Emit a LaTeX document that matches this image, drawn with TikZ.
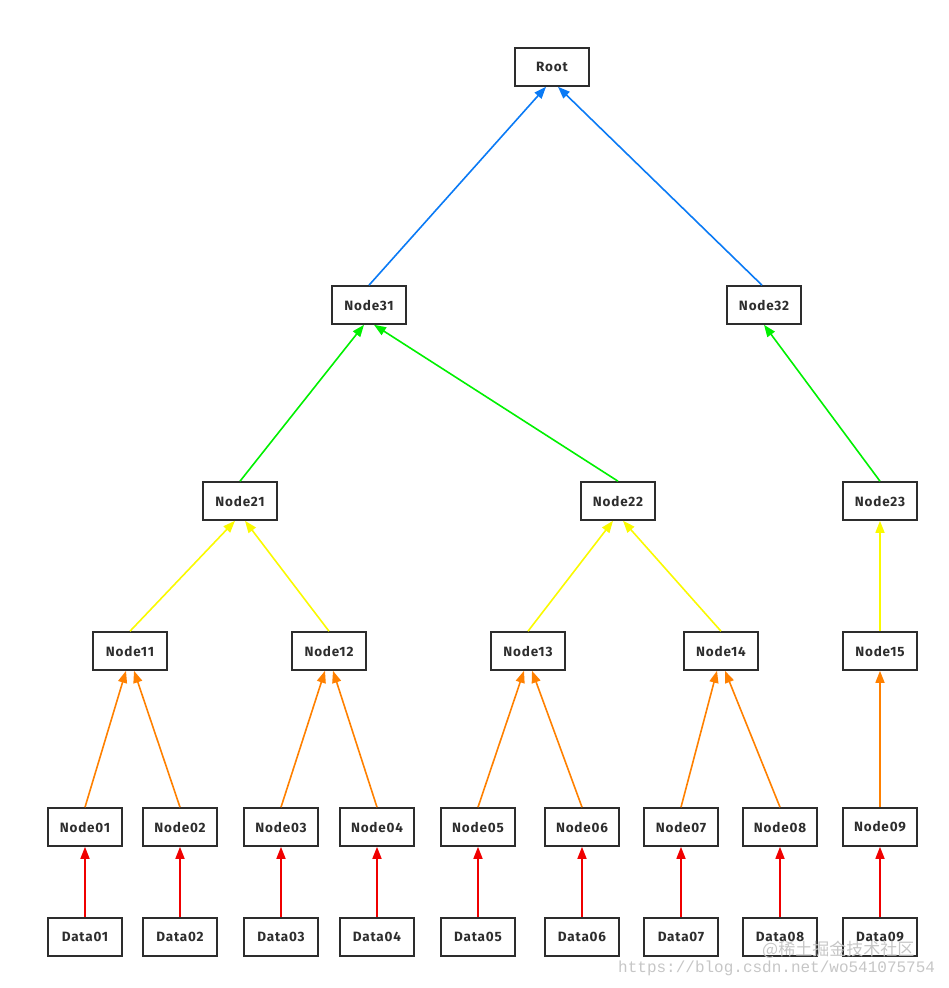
\documentclass[tikz,border=0pt]{standalone}
\usepackage{fontspec}
\setmainfont{Fira Sans}
\newfontfamily\boxfont[LetterSpace=6]{Fira Sans}
\newfontfamily\cjkfont{Noto Sans CJK SC}
\newfontfamily\urlfont{Liberation Mono}
\usetikzlibrary{arrows.meta}
\definecolor{cblue}{RGB}{10,122,245}
\definecolor{cgreen}{RGB}{0,240,0}
\definecolor{cyellow}{RGB}{250,250,0}
\definecolor{corange}{RGB}{255,128,0}
\definecolor{cred}{RGB}{240,0,0}
\definecolor{boxline}{RGB}{45,45,45}
\begin{document}
\begin{tikzpicture}[x=1pt,y=-1pt,
  box/.style={draw=boxline,line width=1.6pt,minimum width=74pt,minimum height=38pt,inner sep=0pt,font=\boxfont\bfseries\fontsize{13.5}{15}\selectfont,text=boxline},
  conn/.style={line width=1.6pt,-{Triangle[length=12pt,width=9pt]}},
  wm/.style={text=gray!45,inner sep=0pt,anchor=west}]
\useasboundingbox (0,0) rectangle (949,988);
\node[box] (root) at (552,67) {Root};
\node[box] (n31) at (369,305) {Node31};
\node[box] (n32) at (764,305) {Node32};
\node[box] (n21) at (240,501) {Node21};
\node[box] (n22) at (618,501) {Node22};
\node[box] (n23) at (880,501) {Node23};
\node[box] (n11) at (130,651) {Node11};
\node[box] (n12) at (329,651) {Node12};
\node[box] (n13) at (528,651) {Node13};
\node[box] (n14) at (721,651) {Node14};
\node[box] (n15) at (880,651) {Node15};
\foreach \i/\x in {01/85,02/180,03/281,04/377,05/478,06/582,07/681,08/780,09/880}{
  \node[box] (n0\i) at (\x,827) {Node\i};
  \node[box] (d\i) at (\x,937) {Data\i};
  \draw[conn,cred] (d\i.north) -- (n0\i.south);
}
% level 0 -> 1
\draw[conn,corange] (n001.north) -- ([xshift=-4pt]n11.south);
\draw[conn,corange] (n002.north) -- ([xshift=4pt]n11.south);
\draw[conn,corange] (n003.north) -- ([xshift=-4pt]n12.south);
\draw[conn,corange] (n004.north) -- ([xshift=4pt]n12.south);
\draw[conn,corange] (n005.north) -- ([xshift=-4pt]n13.south);
\draw[conn,corange] (n006.north) -- ([xshift=4pt]n13.south);
\draw[conn,corange] (n007.north) -- ([xshift=-4pt]n14.south);
\draw[conn,corange] (n008.north) -- ([xshift=4pt]n14.south);
\draw[conn,corange] (n009.north) -- (n15.south);
% level 1 -> 2
\draw[conn,cyellow] (n11.north) -- ([xshift=-5pt]n21.south);
\draw[conn,cyellow] (n12.north) -- ([xshift=5pt]n21.south);
\draw[conn,cyellow] (n13.north) -- ([xshift=-5pt]n22.south);
\draw[conn,cyellow] (n14.north) -- ([xshift=5pt]n22.south);
\draw[conn,cyellow] (n15.north) -- (n23.south);
% level 2 -> 3
\draw[conn,cgreen] (n21.north) -- ([xshift=-5pt]n31.south);
\draw[conn,cgreen] (n22.north) -- ([xshift=5pt]n31.south);
\draw[conn,cgreen] (n23.north) -- (n32.south);
% level 3 -> root
\draw[conn,cblue] (n31.north) -- ([xshift=-6pt]root.south);
\draw[conn,cblue] ([xshift=-2pt]n32.north) -- ([xshift=6pt]root.south);
% watermark
\node[wm,font=\cjkfont\fontsize{17}{18}\selectfont] (wm1) at (762,950) {@稀土掘金技术社区};
\node[wm,font=\urlfont\fontsize{16}{17}\selectfont] (wm2) at (618,968) {https://blog.csdn.net/wo541075754};
\end{tikzpicture}
\end{document}
